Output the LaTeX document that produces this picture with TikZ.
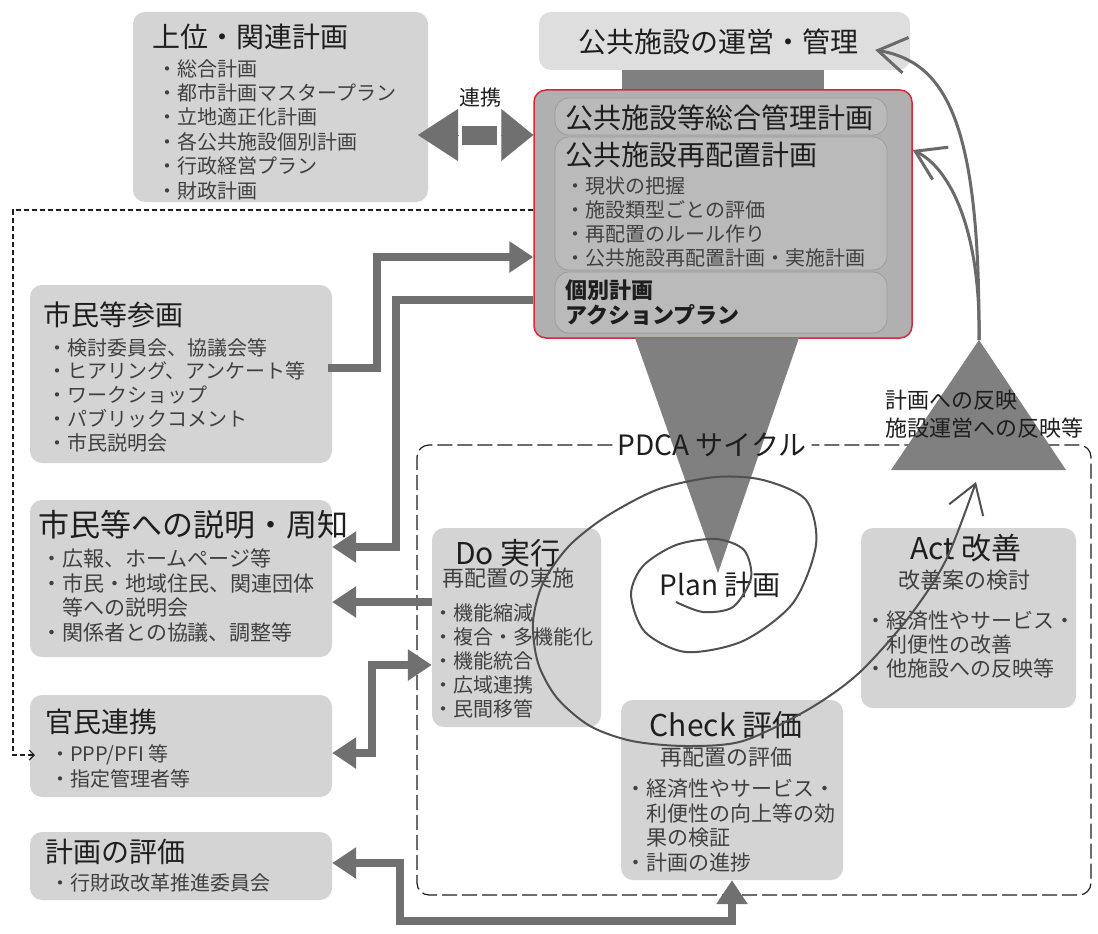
\documentclass[tikz,border=0pt]{standalone}
\usepackage{fontspec}
\setmainfont{Noto Sans CJK JP}
\usetikzlibrary{arrows.meta}

\definecolor{boxgray}{HTML}{D4D4D4}
\definecolor{palegray}{HTML}{DEDEDE}
\definecolor{midgray}{HTML}{B0B0B0}
\definecolor{innergray}{HTML}{BABABA}
\definecolor{innerline}{HTML}{9C9C9C}
\definecolor{planred}{HTML}{D7263D}
\definecolor{arrowgray}{HTML}{707070}
\definecolor{trigray}{HTML}{808080}
\definecolor{titlecol}{HTML}{1E1E1E}
\definecolor{itemcol}{HTML}{404040}
\definecolor{curvegray}{HTML}{6A6A6A}
\definecolor{spiralcol}{HTML}{505050}

\begin{document}
\begin{tikzpicture}[x=1pt,y=-1pt,
  sidebox/.style={fill=boxgray, rounded corners=12pt, inner sep=0pt},
  innerbox/.style={fill=innergray, draw=innerline, line width=0.8pt, rounded corners=14pt, inner sep=0pt},
  ttl/.style={anchor=west, inner sep=0pt, text=titlecol, font=\fontsize{28}{32}\selectfont},
  subttl/.style={inner sep=0pt, text=itemcol, font=\fontsize{22}{26}\selectfont},
  itemlist/.style={anchor=north west, inner sep=0pt, align=left, text=itemcol, font=\fontsize{20}{24.4}\selectfont},
  flowarrow/.style={draw=arrowgray, line width=8pt, -{Triangle[length=24pt,width=30pt]}},
  flowboth/.style={flowarrow, {Triangle[length=24pt,width=30pt]}-{Triangle[length=24pt,width=30pt]}},
  feedback/.style={draw=curvegray, line width=3pt, -{Straight Barb[length=28pt,width=36pt]}},
  linkdash/.style={draw=titlecol, line width=1.2pt, dash pattern=on 5pt off 3pt, -{Straight Barb[length=5pt,width=10pt]}},
  pdcaframe/.style={draw=titlecol, line width=1.2pt, dash pattern=on 15pt off 5pt, rounded corners=12pt}]
  \fill[white] (0,0) rectangle (1098,934);
  \useasboundingbox (0,0) rectangle (1098,934);

  % left column: boxes
  \node[sidebox, minimum width=295pt, minimum height=190pt] (jouiBox) at (280.5,107) {};
  \node[sidebox, minimum width=302pt, minimum height=178pt] (sankaBox) at (181,374) {};
  \node[sidebox, minimum width=302pt, minimum height=157pt] (setsumeiBox) at (181,578.5) {};
  \node[sidebox, minimum width=302pt, minimum height=102pt] (kanminBox) at (181,746) {};
  \node[sidebox, minimum width=302pt, minimum height=68pt] (hyokaBox) at (181,866) {};

  % top: operation box, bar and plan box
  \node[sidebox, fill=palegray, minimum width=371pt, minimum height=58pt] (unneiBox) at (724.5,41) {};
  \fill[trigray] (622,70) rectangle (824,90);
  \node[fill=midgray, draw=planred, line width=1.5pt, rounded corners=12pt, inner sep=0pt,
        minimum width=378pt, minimum height=248pt] (centralBox) at (723,214) {};
  \node[innerbox, minimum width=332pt, minimum height=37pt] (sogoBox) at (721,116.5) {};
  \node[innerbox, minimum width=332pt, minimum height=133pt] (saihaichiBox) at (721,203.5) {};
  \node[innerbox, minimum width=332pt, minimum height=61pt] (kobetsuBox) at (721,302.5) {};

  % PDCA stage boxes
  \node[sidebox, minimum width=169pt, minimum height=199pt] (doBox) at (516.5,627.5) {};
  \node[sidebox, minimum width=222pt, minimum height=180pt] (checkBox) at (732,790) {};
  \node[sidebox, minimum width=215pt, minimum height=180pt] (actBox) at (968.5,618) {};

  % plan triangle, PDCA frame, feedback triangle
  \fill[trigray] (635,338) -- (799,338) -- (718,573) -- cycle;
  \node[font=\fontsize{28}{30}\selectfont, text=titlecol, inner sep=5pt] (pdcaLabel) at (712,445) {PDCA サイクル};
  \draw[pdcaframe] (pdcaLabel.west) -- (417,445) -- (417,895) -- (1091,895) -- (1091,445) -- (pdcaLabel.east);
  \coordinate (actApex) at (979,340);
  \fill[trigray] (actApex) -- (1066,470) -- (891,470) -- cycle;

  % texts
  \node[ttl] (jouiTitle) at (152,37) {上位・関連計画};
  \node[itemlist] (jouiItems) at (157,59) {・総合計画\\・都市計画マスタープラン\\・立地適正化計画\\・各公共施設個別計画\\・行政経営プラン\\・財政計画};
  \node[ttl] (sankaTitle) at (43,315) {市民等参画};
  \node[itemlist, font=\fontsize{20}{23.8}\selectfont] (sankaItems) at (47,338) {・検討委員会、協議会等\\・ヒアリング、アンケート等\\・ワークショップ\\・パブリックコメント\\・市民説明会};
  \node[ttl, font=\fontsize{31}{34}\selectfont] (setsumeiTitle) at (38,525) {市民等への説明・周知};
  \node[itemlist, font=\fontsize{21}{24.7}\selectfont] (setsumeiItems) at (41,548.5) {・広報、ホームページ等\\・市民・地域住民、関連団体\\\hspace*{1em}等への説明会\\・関係者との協議、調整等};
  \node[ttl] (kanminTitle) at (45,722) {官民連携};
  \node[itemlist, font=\fontsize{20}{25}\selectfont] (kanminItems) at (50,744) {・PPP/PFI 等\\・指定管理者等};
  \node[ttl] (hyokaTitle) at (45,852) {計画の評価};
  \node[itemlist, anchor=west] (hyokaItems) at (50,883) {・行財政改革推進委員会};
  \node[font=\fontsize{21}{24}\selectfont, text=titlecol] (renkeiLabel) at (480,98) {連携};

  \node[ttl, anchor=center] (unneiText) at (718,42) {公共施設の運営・管理};
  \node[ttl] (sogoText) at (565,118) {公共施設等総合管理計画};
  \node[ttl] (saihaichiTitle) at (565,155) {公共施設再配置計画};
  \node[itemlist, font=\fontsize{20}{24.3}\selectfont] (saihaichiItems) at (565,176) {・現状の把握\\・施設類型ごとの評価\\・再配置のルール作り\\・公共施設再配置計画・実施計画};
  \node[itemlist, text=titlecol, font=\fontsize{22}{25}\bfseries\selectfont] (kobetsuText) at (565,280) {個別計画\\アクションプラン};

  \node[itemlist, text=titlecol, font=\fontsize{22}{28}\selectfont] (reflectText) at (885,390) {計画への反映\\施設運営への反映等};
  \node[font=\fontsize{28}{30}\selectfont, text=titlecol, inner sep=0pt] (planText) at (720,585) {Plan 計画};

  \node[ttl, font=\fontsize{30}{32}\selectfont] (doTitle) at (455,553) {Do 実行};
  \node[subttl, anchor=west] (doSub) at (442,578) {再配置の実施};
  \node[itemlist, font=\fontsize{20}{24}\selectfont] (doItems) at (433,603) {・機能縮減\\・複合・多機能化\\・機能統合\\・広域連携\\・民間移管};
  \node[ttl, anchor=center, font=\fontsize{30}{32}\selectfont] (checkTitle) at (726,725) {Check 評価};
  \node[subttl] (checkSub) at (726,757) {再配置の評価};
  \node[itemlist, font=\fontsize{21}{24.7}\selectfont] (checkItems) at (625,778.5) {・経済性やサービス・\\\hspace*{1em}利便性の向上等の効\\\hspace*{1em}果の検証\\・計画の進捗};
  \node[ttl, anchor=center, font=\fontsize{30}{32}\selectfont] (actTitle) at (966,548) {Act 改善};
  \node[subttl] (actSub) at (964,580) {改善案の検討};
  \node[itemlist, font=\fontsize{21}{24}\selectfont] (actItems) at (865,610.5) {・経済性やサービス・\\\hspace*{1em}利便性の改善\\・他施設への反映等};

  % renkei double arrow
  \coordinate (rkL) at (458,135);
  \coordinate (rkR) at (501,135);
  \coordinate (rkTip) at (418,135);
  \draw[arrowgray, line width=0.1pt, -{Triangle[length=40pt,width=52pt]}] (rkL) -- (rkTip);
  \draw[arrowgray, line width=0.1pt, -{Triangle[length=32pt,width=52pt]}] (rkR) -- (centralBox.west |- rkR);
  \fill[arrowgray] (462,126) rectangle (497,145);

  % flow arrows
  \coordinate (sankaOut) at (328,368);
  \draw[flowarrow] (sankaOut) -- ++(49,0) |- ([yshift=-43pt]centralBox.west);
  \draw[flowarrow] ([yshift=-86pt]centralBox.west) -- ++(-137,0) |- ([yshift=31.5pt]setsumeiBox.east);
  \draw[flowarrow] ([yshift=25.5pt]doBox.west) coordinate (doOut) -- (setsumeiBox.east |- doOut);
  \draw[flowboth] ([yshift=-7pt]kanminBox.east) -- ++(40,0) |- ([yshift=-37.5pt]doBox.west);
  \draw[flowboth] ([yshift=3pt]hyokaBox.east) -- ++(68,0) -- ++(0,58) -| (checkBox.south);

  % link to partnership (dashed)
  \coordinate (dashTip) at (35,755);
  \draw[linkdash] ([yshift=4pt]centralBox.west) -| ([xshift=-22pt]dashTip) -- (dashTip);

  % feedback curves
  \draw[feedback] (actApex) .. controls (980,120) and (945,62) .. ([xshift=-35pt,yshift=-9pt]unneiBox.east);
  \draw[feedback] (actApex) .. controls (981,230) and (950,168) .. ([yshift=64pt]centralBox.east);

  % PDCA spiral
  \draw[spiralcol, line width=2pt, -{Straight Barb[length=28pt,width=36pt]}] plot[smooth] coordinates {
    (676,602) (703,612) (733,607) (751,578) (744,550) (716,539) (676,545) (643,566) (631,595)
    (645,632) (686,652) (743,641) (793,603) (816,545) (806,500) (763,480) (716,477) (659,489)
    (607,516) (569,546) (543,583) (533,622) (538,663) (557,698) (590,726) (632,741) (686,746)
    (743,741) (809,709) (859,673) (909,617) (946,560) (976,482)};
\end{tikzpicture}
\end{document}
